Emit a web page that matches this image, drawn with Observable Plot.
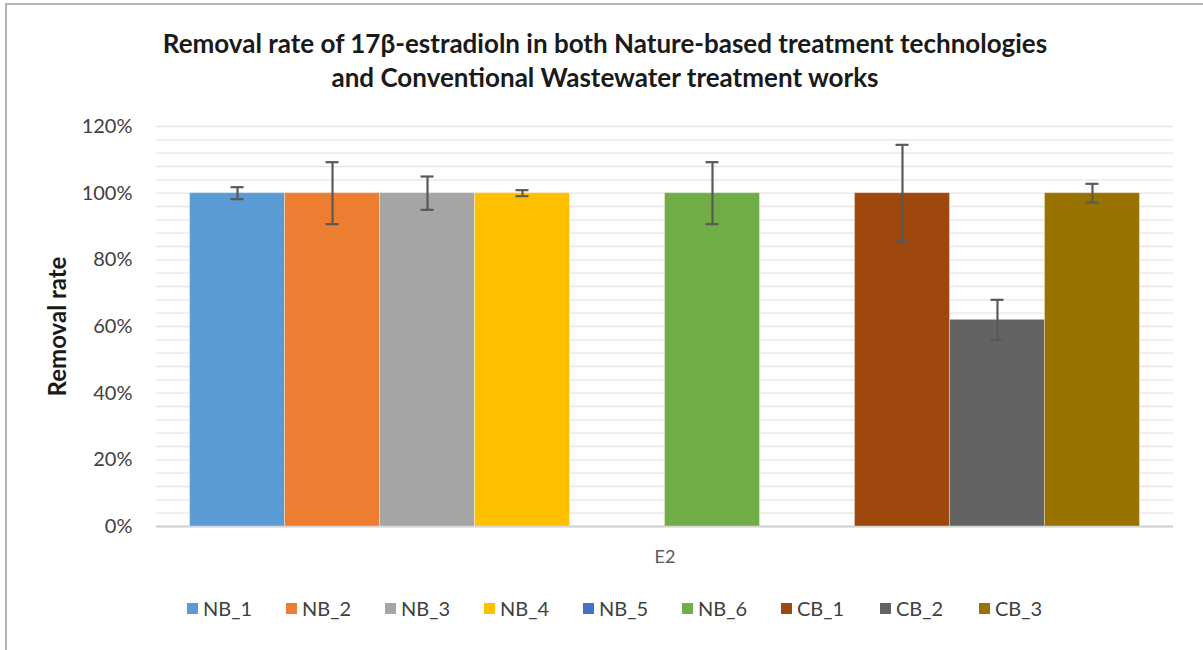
<!DOCTYPE html>
<html>
<head>
<meta charset="utf-8">
<script src="https://cdn.jsdelivr.net/npm/d3@7"></script>
<script src="https://cdn.jsdelivr.net/npm/@observablehq/plot@0.6"></script>
<style>
  html, body { margin: 0; padding: 0; background: #fff; }
  #wrap { position: relative; width: 1203px; height: 650px; overflow: hidden; background: #fff; font-family: Lato, "Open Sans", sans-serif; }
  #frame { position: absolute; left: 5px; top: 3px; right: -10px; bottom: -10px; border-top: 2px solid #b4b4b4; border-left: 2px solid #b4b4b4; }
  #title { position: absolute; top: 26px; left: 0; width: 1210px; text-align: center; font-weight: bold; font-size: 26px; line-height: 34px; color: #1a1a1a; }
  #chart { position: absolute; top: 100px; left: 0; }
  #legend { position: absolute; top: 597px; left: 187px; display: flex; }
  .item { width: 99px; display: flex; align-items: center; font-size: 20px; color: #404040; height: 22px; }
  .sw { width: 11px; height: 11px; margin-right: 5px; flex: none; }
</style>
</head>
<body>
<div id="wrap">
  <div id="frame"></div>
  <div id="title"></div>
  <div id="chart"></div>
  <div id="legend"></div>
</div>
<script>
const titleLines = ["Removal rate of 17β-estradioln in both Nature-based treatment technologies", "and Conventional Wastewater treatment works"];
const yLabel = "Removal rate";
const group = "E2";
const series = ["NB_1", "NB_2", "NB_3", "NB_4", "NB_5", "NB_6", "CB_1", "CB_2", "CB_3"];
const values = [1.00, 1.00, 1.00, 1.00, null, 1.00, 1.00, 0.62, 1.00];
const errors = [0.018, 0.093, 0.05, 0.009, null, 0.093, 0.145, 0.06, 0.028];
const colors = ["#5B9BD5", "#ED7D31", "#A5A5A5", "#FFC000", "#4472C4", "#70AD47", "#9E480E", "#636363", "#997300"];
// bar slots on the category axis (one unnamed empty slot between NB_6 and CB_1)
const slots = ["NB_1", "NB_2", "NB_3", "NB_4", "NB_5", "NB_6", " ", "CB_1", "CB_2", "CB_3"];
const yTicks = [0, 0.2, 0.4, 0.6, 0.8, 1.0, 1.2];
const gridTicks = d3.range(0, 1.2001, 0.04);

document.getElementById("title").innerHTML = titleLines.join("<br>");

const data = series.map((s, i) => ({group, series: s, value: values[i], err: errors[i], color: colors[i]}));
const withVal = data.filter(d => d.value != null);

const chart = Plot.plot({
  width: 1203,
  height: 480,
  marginTop: 26,
  marginBottom: 54,
  marginLeft: 156,
  marginRight: 30,
  style: {fontFamily: "Lato, 'Open Sans', sans-serif", fontSize: "20px", color: "#404040", background: "transparent"},
  fx: {domain: [group], padding: 0, label: null},
  x: {domain: slots, paddingInner: 0, paddingOuter: 0.353, round: false, axis: null},
  y: {domain: [0, 1.2], label: null},
  color: {type: "identity"},
  marks: [
    Plot.ruleY(gridTicks, {stroke: "#e6e6e6", strokeWidth: 1.4}),
    Plot.ruleY([0], {stroke: "#cfcfcf", strokeWidth: 2}),
    Plot.barY(withVal, {fx: "group", x: "series", y: "value", fill: "color", stroke: "#ffffff", strokeOpacity: 0.35, strokeWidth: 1}),
    Plot.ruleX(withVal, {fx: "group", x: "series", y1: d => d.value - d.err, y2: d => d.value + d.err, stroke: "#595959", strokeWidth: 2.2}),
    Plot.tickY(withVal, {fx: "group", x: "series", y: d => d.value - d.err, stroke: "#595959", strokeWidth: 2.2, insetLeft: 41, insetRight: 41}),
    Plot.tickY(withVal, {fx: "group", x: "series", y: d => d.value + d.err, stroke: "#595959", strokeWidth: 2.2, insetLeft: 41, insetRight: 41}),
    Plot.axisY({ticks: yTicks, tickFormat: d3.format(".0%"), tickSize: 0, tickPadding: 24, fontSize: 20, fill: "#404040", label: null}),
    Plot.axisFx({anchor: "bottom", tickSize: 0, tickPadding: 24, fontSize: 18, fill: "#595959", label: null}),
    Plot.text([yLabel], {frameAnchor: "left", textAnchor: "middle", dx: -98, rotate: -90, fontSize: 24, fontWeight: "bold", fill: "#1a1a1a"})
  ]
});
document.getElementById("chart").appendChild(chart);

const legend = document.getElementById("legend");
series.forEach((s, i) => {
  const it = document.createElement("div");
  it.className = "item";
  const sw = document.createElement("span");
  sw.className = "sw";
  sw.style.background = colors[i];
  it.appendChild(sw);
  it.appendChild(document.createTextNode(s));
  legend.appendChild(it);
});
</script>
</body>
</html>
